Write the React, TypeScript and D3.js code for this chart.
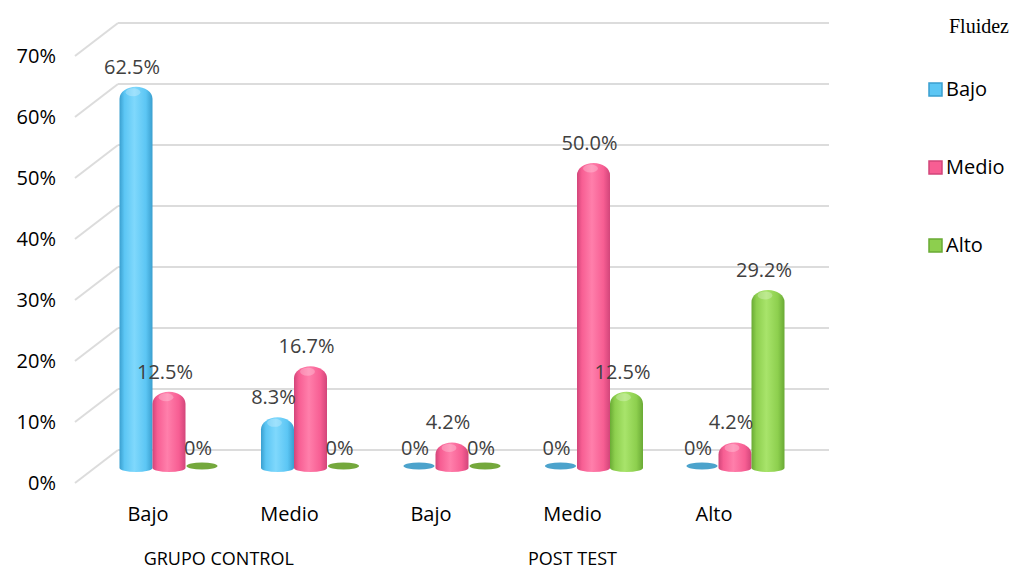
import React from 'react';
import * as d3 from 'd3';

// Data
const categories = ['Bajo', 'Medio', 'Bajo', 'Medio', 'Alto'];
const groups = [
    { name: 'GRUPO CONTROL', from: 0, to: 1 },
    { name: 'POST TEST', from: 2, to: 4 },
];
const series = ['Bajo', 'Medio', 'Alto'];
const bajoValues = [0.625, 0.083, 0, 0, 0];
const medioValues = [0.125, 0.167, 0.042, 0.5, 0.042];
const altoValues = [0, 0, 0, 0.125, 0.292];
const yTicks = [0, 0.1, 0.2, 0.3, 0.4, 0.5, 0.6, 0.7];

const colors: Record<string, { dark: string; mid: string; light: string; flat: string }> = {
    Bajo: { dark: '#3a9fcf', mid: '#5cc6f4', light: '#7fd8fc', flat: '#4ca3cc' },
    Medio: { dark: '#d2457a', mid: '#f75e93', light: '#ff7fab', flat: '#c84a7c' },
    Alto: { dark: '#6aaa35', mid: '#8dcf4e', light: '#a8e46b', flat: '#74a83c' },
};

const font = '"Open Sans", "Noto Sans", sans-serif';

export default function App() {
    const valuesBySeries: Record<string, number[]> = {
        Bajo: bajoValues,
        Medio: medioValues,
        Alto: altoValues,
    };

    // front edge of the floor (where the tick labels sit)
    const yFront = d3.scaleLinear().domain([0, 0.7]).range([483, 56]);
    const backDx = 43, backDy = -33; // back wall offset
    const barDy = -15; // bars stand in the middle of the depth
    const backLeft = 75 + backDx;
    const backRight = 829;

    const x = d3.scaleBand<number>()
        .domain(categories.map((_, i) => i))
        .range([98.25, 805.75])
        .padding(0);
    const inner = d3.scaleBand<string>()
        .domain(series)
        .range([-49.5, 49.5])
        .padding(0);
    const bw = inner.bandwidth();

    const center = (i: number) => (x(i) ?? 0) + x.bandwidth() / 2;
    const labelX = (i: number) => center(i) - 21;

    const rx = bw / 2;
    const capRy = 12;
    const baseRy = 4;

    const bars: React.ReactNode[] = [];
    const labels: React.ReactNode[] = [];

    series.forEach((s) => {
        valuesBySeries[s].forEach((v, i) => {
            const cx = center(i) + (inner(s) ?? 0) + bw / 2;
            const base = yFront(0) + barDy;
            const top = yFront(v) + barDy;
            if (v <= 0) {
                bars.push(
                    <ellipse key={`${s}-${i}`} cx={cx} cy={base - 2} rx={rx - 1} ry={3.5} fill={colors[s].flat} />
                );
            } else {
                const l = cx - rx;
                const r = cx + rx;
                const capTop = Math.min(top + capRy, base - baseRy);
                const ry = capTop - top;
                const d = `M${l},${base} L${l},${capTop} A${rx},${ry} 0 0 1 ${r},${capTop} L${r},${base} A${rx},${baseRy} 0 0 1 ${l},${base} Z`;
                bars.push(
                    <g key={`${s}-${i}`}>
                        <path d={d} fill={`url(#grad-${s})`} />
                        <ellipse cx={cx - 3} cy={top + Math.min(ry, 10) * 0.55} rx={rx * 0.45} ry={Math.min(ry, 10) * 0.4} fill="#ffffff" opacity={0.25} />
                    </g>
                );
            }
            const text = v === 0 ? '0%' : `${(v * 100).toFixed(1)}%`;
            labels.push(
                <text key={`l-${s}-${i}`} x={cx - 4} y={top - 13} textAnchor="middle" fontSize={20} fill="#404040" fontFamily={font}>
                    {text}
                </text>
            );
        });
    });

    return (
        <svg width={1024} height={571} style={{ position: 'absolute', left: 0, top: 0, background: '#fff' }}>
            <defs>
                {series.map((s) => (
                    <linearGradient key={s} id={`grad-${s}`} x1="0" x2="1" y1="0" y2="0">
                        <stop offset="0%" stopColor={colors[s].dark} />
                        <stop offset="15%" stopColor={colors[s].mid} />
                        <stop offset="45%" stopColor={colors[s].light} />
                        <stop offset="80%" stopColor={colors[s].mid} />
                        <stop offset="100%" stopColor={colors[s].dark} />
                    </linearGradient>
                ))}
            </defs>

            {/* gridlines: diagonal floor edge + back wall */}
            <g stroke="#dcdcdc" strokeWidth={2} fill="none">
                {yTicks.map((t) => (
                    <g key={t}>
                        <line x1={75} y1={yFront(t)} x2={backLeft} y2={yFront(t) + backDy} />
                        <line x1={backLeft} y1={yFront(t) + backDy} x2={backRight} y2={yFront(t) + backDy} />
                    </g>
                ))}
            </g>

            {/* y axis labels */}
            {yTicks.map((t) => (
                <text key={t} x={56} y={yFront(t) + 7} textAnchor="end" fontSize={20} fill="#000" fontFamily={font}>
                    {d3.format('.0%')(t)}
                </text>
            ))}

            {bars}
            {labels}

            {/* category labels */}
            {categories.map((c, i) => (
                <text key={i} x={labelX(i)} y={521} textAnchor="middle" fontSize={20} fill="#000" fontFamily={font}>
                    {c}
                </text>
            ))}
            {groups.map((g) => (
                <text key={g.name} x={(labelX(g.from) + labelX(g.to)) / 2} y={565} textAnchor="middle" fontSize={18} fill="#000" fontFamily={font}>
                    {g.name}
                </text>
            ))}

            {/* legend */}
            <text x={949} y={33} fontSize={20} fontFamily='"Liberation Serif", "Times New Roman", serif' fill="#000">Fluidez</text>
            {series.map((s, k) => {
                const cy = 89 + k * 78;
                return (
                    <g key={s}>
                        <rect x={929} y={cy - 6} width={13} height={13} fill={colors[s].mid} />
                        <rect x={929} y={cy - 6} width={13} height={13} fill="none" stroke={colors[s].dark} strokeWidth={1.5} />
                        <text x={946} y={cy + 7} fontSize={20} fill="#000" fontFamily={font}>{s}</text>
                    </g>
                );
            })}
        </svg>
    );
}
